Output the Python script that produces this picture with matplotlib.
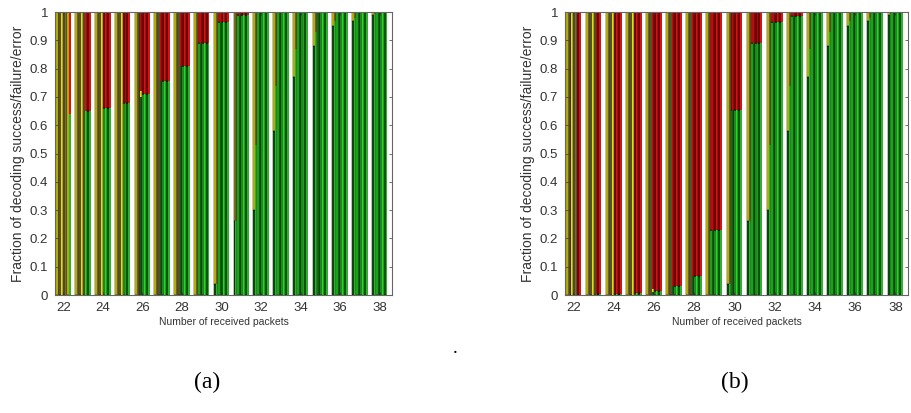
import matplotlib
matplotlib.use("Agg")
import matplotlib.pyplot as plt
import numpy as np

plt.rcParams["font.family"] = ["Liberation Sans", "DejaVu Sans"]

# number of received packets (one group of sub-bars per value)
packets = list(range(22, 39))

# per group, 8 sub-bars: fraction of decoding success / failure (error = rest)
succ_a = [
    [0, 0, 0, 0, 0, 0, 0, 0.64],
    [0, 0, 0, 0, 0, 0.65, 0.65, 0.65],
    [0, 0, 0, 0, 0.66, 0.66, 0.66, 0.66],
    [0, 0, 0, 0, 0.68, 0.68, 0.68, 0.68],
    [0, 0, 0, 0.70, 0.71, 0.71, 0.71, 0.71],
    [0, 0, 0, 0.755, 0.755, 0.755, 0.755, 0.755],
    [0, 0, 0, 0.81, 0.81, 0.81, 0.81, 0.81],
    [0, 0, 0.89, 0.89, 0.89, 0.89, 0.89, 0.89],
    [0.04, 0.04, 0.965, 0.965, 0.965, 0.965, 0.965, 0.965],
    [0.26, 0.26, 0.99, 0.99, 0.99, 0.99, 0.99, 0.99],
    [0.30, 0.53, 1, 1, 1, 1, 1, 1],
    [0.58, 0.74, 1, 1, 1, 1, 1, 1],
    [0.77, 0.87, 1, 1, 1, 1, 1, 1],
    [0.88, 0.93, 1, 1, 1, 1, 1, 1],
    [0.95, 0.97, 1, 1, 1, 1, 1, 1],
    [0.97, 0.98, 1, 1, 1, 1, 1, 1],
    [0.99, 0.995, 1, 1, 1, 1, 1, 1],
]
fail_a = [
    [1, 1, 1, 1, 1, 1, 1, 0],
    [1, 1, 1, 1, 1, 0, 0, 0],
    [1, 1, 1, 1, 0, 0, 0, 0],
    [1, 1, 1, 1, 0, 0, 0, 0],
    [1, 1, 1, 0.02, 0, 0, 0, 0],
    [1, 1, 1, 0, 0, 0, 0, 0],
    [1, 1, 1, 0, 0, 0, 0, 0],
    [1, 1, 0, 0, 0, 0, 0, 0],
    [0.96, 0.96, 0, 0, 0, 0, 0, 0],
    [0.74, 0.74, 0, 0, 0, 0, 0, 0],
    [0.70, 0.47, 0, 0, 0, 0, 0, 0],
    [0.42, 0.26, 0, 0, 0, 0, 0, 0],
    [0.23, 0.13, 0, 0, 0, 0, 0, 0],
    [0.12, 0.07, 0, 0, 0, 0, 0, 0],
    [0.05, 0.03, 0, 0, 0, 0, 0, 0],
    [0.03, 0.02, 0, 0, 0, 0, 0, 0],
    [0.01, 0.005, 0, 0, 0, 0, 0, 0],
]

succ_b = [
    [0, 0, 0, 0, 0, 0, 0, 0],
    [0, 0, 0, 0, 0, 0.005, 0.005, 0.005],
    [0, 0, 0, 0, 0.005, 0.005, 0.005, 0.005],
    [0, 0, 0, 0, 0.007, 0.007, 0.007, 0.007],
    [0, 0, 0, 0.01, 0.015, 0.015, 0.015, 0.015],
    [0, 0, 0, 0.033, 0.033, 0.033, 0.033, 0.033],
    [0, 0, 0, 0.067, 0.067, 0.067, 0.067, 0.067],
    [0, 0, 0.23, 0.23, 0.23, 0.23, 0.23, 0.23],
    [0.04, 0.04, 0.655, 0.655, 0.655, 0.655, 0.655, 0.655],
    [0.26, 0.26, 0.89, 0.89, 0.89, 0.89, 0.89, 0.89],
    [0.30, 0.53, 0.965, 0.965, 0.965, 0.965, 0.965, 0.965],
    [0.58, 0.74, 0.985, 0.985, 0.985, 0.985, 0.985, 0.985],
    [0.77, 0.87, 1, 1, 1, 1, 1, 1],
    [0.88, 0.93, 1, 1, 1, 1, 1, 1],
    [0.95, 0.97, 1, 1, 1, 1, 1, 1],
    [0.97, 0.98, 1, 1, 1, 1, 1, 1],
    [0.99, 0.995, 1, 1, 1, 1, 1, 1],
]
fail_b = [
    [1, 1, 1, 1, 1, 1, 0, 0],
    [1, 1, 1, 1, 1, 0, 0, 0],
    [1, 1, 1, 1, 0, 0, 0, 0],
    [1, 1, 1, 1, 0, 0, 0, 0],
    [1, 1, 1, 0.01, 0, 0, 0, 0],
    [1, 1, 1, 0, 0, 0, 0, 0],
    [1, 1, 1, 0, 0, 0, 0, 0],
    [1, 1, 0, 0, 0, 0, 0, 0],
    [0.96, 0.96, 0, 0, 0, 0, 0, 0],
    [0.74, 0.74, 0, 0, 0, 0, 0, 0],
    [0.70, 0.47, 0, 0, 0, 0, 0, 0],
    [0.42, 0.26, 0, 0, 0, 0, 0, 0],
    [0.23, 0.13, 0, 0, 0, 0, 0, 0],
    [0.12, 0.07, 0, 0, 0, 0, 0, 0],
    [0.05, 0.03, 0, 0, 0, 0, 0, 0],
    [0.03, 0.02, 0, 0, 0, 0, 0, 0],
    [0.01, 0.005, 0, 0, 0, 0, 0, 0],
]

# shade per sub-bar (MATLAB-ish stripes)
GREENS = ["#0F5F0F", "#2FAF2F", "#22D822", "#0F5F0F", "#2FAF2F", "#22D822", "#156E15", "#2FAF2F"]
YELLOWS = ["#F0E400", "#6A6133", "#756B36", "#E8DA10", "#6A6133", "#756B36", "#F0E400", "#6A6133"]
REDS = ["#D81212", "#8C0C0C", "#E01818", "#C00A0A", "#8C0C0C", "#D81212", "#8C0C0C", "#D81212"]
EDGE_ON = [True, False, True, False, True, False, True, False]

GROUP_W = 0.78
N_SUB = 8


def draw_panel(ax, succ, fail):
    succ = np.array(succ, dtype=float)
    fail = np.array(fail, dtype=float)
    err = 1.0 - succ - fail
    x = np.array(packets, dtype=float)
    w = GROUP_W / N_SUB
    for k in range(N_SUB):
        xk = x - GROUP_W / 2 + (k + 0.5) * w
        kw = dict(width=w, edgecolor="black" if EDGE_ON[k] else "none",
                  linewidth=0.35)
        ax.bar(xk, succ[:, k], color=GREENS[k], **kw)
        ax.bar(xk, fail[:, k], bottom=succ[:, k], color=YELLOWS[k], **kw)
        ax.bar(xk, err[:, k], bottom=succ[:, k] + fail[:, k], color=REDS[k], **kw)

    ax.set_xlim(21.58, 38.62)
    ax.set_ylim(0, 1)
    ax.set_xticks(range(22, 39, 2))
    ax.set_yticks(np.arange(0, 1.01, 0.1))
    ax.set_yticklabels(["0", "0.1", "0.2", "0.3", "0.4", "0.5", "0.6", "0.7", "0.8", "0.9", "1"])
    ax.tick_params(direction="in", length=2, width=0.5, labelsize=9.5,
                   top=True, right=True, colors="#333333", pad=5)
    for sp in ax.spines.values():
        sp.set_color("#666666")
        sp.set_linewidth(0.8)
    ax.set_xlabel("Number of received packets", fontsize=7.5, labelpad=2, color="#333333")
    ax.set_ylabel("Fraction of decoding success/failure/error", fontsize=10,
                  labelpad=3, color="#333333")


fig = plt.figure(figsize=(9.12, 4.13), dpi=100)
ax_a = fig.add_axes([0.0603, 0.2857, 0.3695, 0.685])
ax_b = fig.add_axes([0.6195, 0.2857, 0.3760, 0.685])
draw_panel(ax_a, succ_a, fail_a)
draw_panel(ax_b, succ_b, fail_b)

fig.text(0.227, 0.073, "(a)", fontsize=17, family="Liberation Serif", ha="center", va="center")
fig.text(0.806, 0.073, "(b)", fontsize=17, family="Liberation Serif", ha="center", va="center")
fig.text(0.499, 0.155, ".", fontsize=14, family="Liberation Serif", ha="center", va="center")

fig.savefig("out.png", dpi=100)
